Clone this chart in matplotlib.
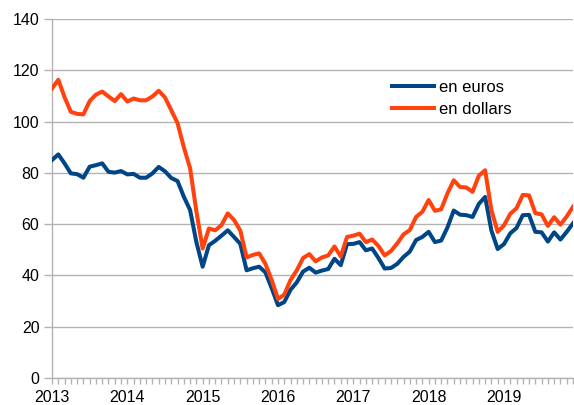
import matplotlib.pyplot as plt
import numpy as np

plt.rcParams['font.family'] = ['Liberation Sans', 'DejaVu Sans']

# prix mensuel, janvier 2013 -> decembre 2019
annees = ['2013', '2014', '2015', '2016', '2017', '2018', '2019']

en_dollars = [
    112.9, 116.3, 109.5, 103.8, 103.0, 102.8, 108.0, 110.5, 111.7, 109.8, 108.0, 110.7,
    107.8, 109.0, 108.3, 108.3, 109.8, 112.0, 109.4, 104.4, 99.4, 90.0, 81.8, 65.0,
    50.5, 58.3, 57.6, 59.6, 64.2, 61.6, 57.5, 47.0, 48.0, 48.6, 44.5, 38.2,
    30.8, 32.5, 38.2, 42.0, 46.8, 48.3, 45.5, 47.0, 47.8, 51.3, 47.4, 55.0,
    55.5, 56.3, 53.0, 54.0, 51.5, 47.8, 49.5, 52.5, 56.0, 57.7, 62.8, 64.8,
    69.4, 65.2, 65.8, 72.0, 77.1, 74.5, 74.3, 72.6, 78.9, 81.0, 65.5, 57.0,
    59.5, 64.0, 66.2, 71.4, 71.2, 64.3, 63.8, 59.3, 62.7, 59.8, 63.0, 66.8,
]

en_euros = [
    85.0, 87.2, 83.7, 79.8, 79.5, 78.1, 82.4, 83.0, 83.7, 80.4, 80.1, 80.7,
    79.4, 79.6, 78.1, 78.1, 79.8, 82.3, 80.6, 78.0, 76.8, 70.7, 65.5, 53.0,
    43.4, 51.8, 53.5, 55.5, 57.6, 55.0, 52.3, 42.0, 42.8, 43.4, 41.2, 35.0,
    28.4, 29.6, 34.4, 37.3, 41.5, 43.0, 41.1, 41.9, 42.5, 46.5, 44.0, 52.2,
    52.3, 53.0, 49.8, 50.5, 46.8, 42.7, 42.9, 44.5, 47.2, 49.3, 53.8, 55.0,
    57.0, 53.0, 53.6, 58.7, 65.3, 63.7, 63.5, 62.8, 67.9, 70.6, 57.5, 50.3,
    52.2, 56.4, 58.5, 63.5, 63.6, 57.0, 56.8, 53.2, 56.8, 54.0, 57.0, 60.3,
]

mois = np.arange(len(en_euros))
gris = '#b3b3b3'

fig = plt.figure(figsize=(5.74, 4.05), dpi=100)
ax = fig.add_axes([52/574, 27/405, 521/574, 359/405])

ax.plot(mois, en_euros, color='#004586', lw=2.9, label='en euros', zorder=3)
ax.plot(mois, en_dollars, color='#ff420e', lw=2.9, label='en dollars', zorder=3)

ax.set_xlim(0, len(mois) - 1)
ax.set_ylim(0, 140)
ax.set_yticks(np.arange(0, 141, 20))
ax.set_xticks(np.arange(0, len(mois), 12))
ax.set_xticklabels(annees)
ax.set_xticks(mois, minor=True)

ax.grid(axis='y', color=gris, lw=1)
ax.set_axisbelow(True)
for s in ['top', 'right']:
    ax.spines[s].set_visible(False)
for s in ['left', 'bottom']:
    ax.spines[s].set_color(gris)
    ax.spines[s].set_linewidth(1)

ax.tick_params(axis='y', length=6, color=gris, width=1, pad=3, labelsize=11.5)
ax.tick_params(axis='x', which='both', length=4, color=gris, width=1, pad=5, labelsize=11.5)

ax.legend(loc='upper left', bbox_to_anchor=(0.64, 0.85), frameon=False,
          fontsize=12, handlelength=2.5, handletextpad=0.3, labelspacing=0.45,
          borderaxespad=0)

fig.savefig('out.png', dpi=100)
